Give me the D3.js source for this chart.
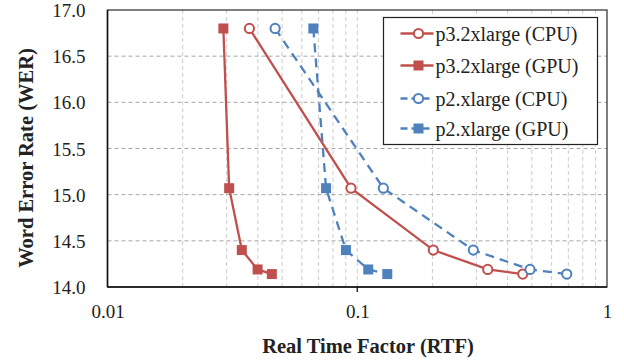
<!DOCTYPE html>
<html>
<head>
<meta charset="utf-8">
<script src="https://cdn.jsdelivr.net/npm/d3@7"></script>
</head>
<body style="margin:0">
<svg id="chart" width="624" height="361" style="font-family: 'Liberation Serif'"></svg>
<script>
// WER levels shared by all runs
const wer = [16.8, 15.07, 14.4, 14.19, 14.14]

const p3Cpu = [0.0370, 0.0944, 0.2016, 0.333, 0.460]
const p3Gpu = [0.0291, 0.0307, 0.0345, 0.0399, 0.0455]
const p2Cpu = [0.0469, 0.1272, 0.2915, 0.4917, 0.690]
const p2Gpu = [0.0667, 0.0750, 0.0901, 0.1107, 0.1319]

const xTicks = [0.01, 0.1, 1]
const yTicks = [14.0, 14.5, 15.0, 15.5, 16.0, 16.5, 17.0]

const red = '#c0504d'
const blue = '#4f81bd'
const FONT = 'Liberation Serif'

const series = [
  { name: 'p3.2xlarge (CPU)', rtf: p3Cpu, color: red, marker: 'circle', dash: null },
  { name: 'p3.2xlarge (GPU)', rtf: p3Gpu, color: red, marker: 'square', dash: null },
  { name: 'p2.xlarge (CPU)', rtf: p2Cpu, color: blue, marker: 'circle', dash: '9,6' },
  { name: 'p2.xlarge (GPU)', rtf: p2Gpu, color: blue, marker: 'square', dash: '9,6' },
]

const margin = { top: 10, right: 17, bottom: 74, left: 107.5 }
const W = 624 - margin.left - margin.right
const H = 361 - margin.top - margin.bottom

const svg = d3.select('#chart')
const g = svg.append('g').attr('transform', `translate(${margin.left},${margin.top})`)

const x = d3.scaleLog().domain([0.01, 1]).range([0, W])
const y = d3.scaleLinear().domain([14, 17]).range([H, 0])

// grid: vertical minor + major
const vGrid = []
for (let dec = 0.01; dec < 1; dec *= 10) {
  for (let k = 2; k <= 10; k++) vGrid.push(dec * k)
}
g.append('g').selectAll('line')
  .data(vGrid.filter(v => v < 0.999))
  .enter().append('line')
  .attr('x1', d => x(d)).attr('x2', d => x(d))
  .attr('y1', 0).attr('y2', H)
  .attr('stroke', '#cccccc').attr('stroke-width', 1)
  .attr('stroke-dasharray', '4,3')

g.append('g').selectAll('line')
  .data(yTicks.slice(1, -1))
  .enter().append('line')
  .attr('x1', 0).attr('x2', W)
  .attr('y1', d => y(d)).attr('y2', d => y(d))
  .attr('stroke', '#a6a6a6').attr('stroke-width', 1)
  .attr('stroke-dasharray', '4,3')

// frame
g.append('rect')
  .attr('width', W).attr('height', H)
  .attr('fill', 'none').attr('stroke', '#3a3a3a').attr('stroke-width', 1.3)
g.append('line')
  .attr('x1', 0).attr('x2', W).attr('y1', H).attr('y2', H)
  .attr('stroke', '#111').attr('stroke-width', 1.5)
g.append('line')
  .attr('x1', 0).attr('x2', 0).attr('y1', 0).attr('y2', H)
  .attr('stroke', '#111').attr('stroke-width', 1.5)

// axes
const xAxis = g.append('g')
  .attr('transform', `translate(0,${H})`)
  .call(d3.axisBottom(x).tickValues(xTicks).tickFormat(d => String(d)).tickSize(0).tickPadding(18))
const yAxis = g.append('g')
  .call(d3.axisLeft(y).tickValues(yTicks).tickFormat(d3.format('.1f')).tickSize(0).tickPadding(22))
;[xAxis, yAxis].forEach(a => {
  a.attr('font-family', null).attr('font-size', null)
  a.select('.domain').remove()
  a.selectAll('text').attr('fill', '#222').attr('font-family', FONT).attr('font-size', 19)
})
yAxis.selectAll('text').attr('dy', '0.35em')
g.selectAll('.tick line').remove()
// small major tick marks on x axis
g.append('g').selectAll('line')
  .data(xTicks.slice(1, -1))
  .enter().append('line')
  .attr('x1', d => x(d)).attr('x2', d => x(d))
  .attr('y1', H).attr('y2', H + 5)
  .attr('stroke', '#111').attr('stroke-width', 1.3)

// axis titles
svg.append('text')
  .attr('x', 368).attr('y', 353)
  .attr('text-anchor', 'middle')
  .attr('font-family', FONT).attr('font-size', 20.5).attr('font-weight', 'bold').attr('fill', '#222')
  .text('Real Time Factor (RTF)')
svg.append('text')
  .attr('transform', 'translate(33,158) rotate(-90)')
  .attr('text-anchor', 'middle')
  .attr('font-family', FONT).attr('font-size', 20.5).attr('font-weight', 'bold').attr('fill', '#222')
  .text('Word Error Rate (WER)')

// series
const lineGen = d3.line().x(d => x(d[0])).y(d => y(d[1]))

function drawMarker(sel, s) {
  if (s.marker === 'circle') {
    sel.append('circle').attr('r', 4.6)
      .attr('fill', '#fff').attr('stroke', s.color).attr('stroke-width', 2)
  } else {
    sel.append('rect').attr('x', -5).attr('y', -5).attr('width', 10).attr('height', 10)
      .attr('fill', s.color)
  }
}

series.forEach(s => {
  const pts = s.rtf.map((r, i) => [r, wer[i]])
  g.append('path')
    .datum(pts)
    .attr('d', lineGen)
    .attr('fill', 'none')
    .attr('stroke', s.color)
    .attr('stroke-width', 2.3)
    .attr('stroke-dasharray', s.dash)
  g.append('g').selectAll('g')
    .data(pts)
    .enter().append('g')
    .attr('transform', d => `translate(${x(d[0])},${y(d[1])})`)
    .each(function() { drawMarker(d3.select(this), s) })
})

// legend
const legend = svg.append('g').attr('transform', 'translate(383.5,17.5)')
legend.append('rect')
  .attr('width', 214).attr('height', 127)
  .attr('fill', '#fff').attr('stroke', '#222').attr('stroke-width', 1.2)
const rowY = [16, 48, 81, 111]
series.forEach((s, i) => {
  const row = legend.append('g').attr('transform', `translate(0,${rowY[i]})`)
  row.append('line')
    .attr('x1', 17).attr('x2', 50)
    .attr('stroke', s.color).attr('stroke-width', 2.3)
    .attr('stroke-dasharray', s.dash ? '7,4' : null)
  const m = row.append('g').attr('transform', 'translate(35,0)')
  drawMarker(m, s)
  row.append('text')
    .attr('x', 52).attr('dy', '0.35em')
    .attr('font-family', FONT).attr('font-size', 20).attr('fill', '#222')
    .text(s.name)
})
</script>
</body>
</html>
